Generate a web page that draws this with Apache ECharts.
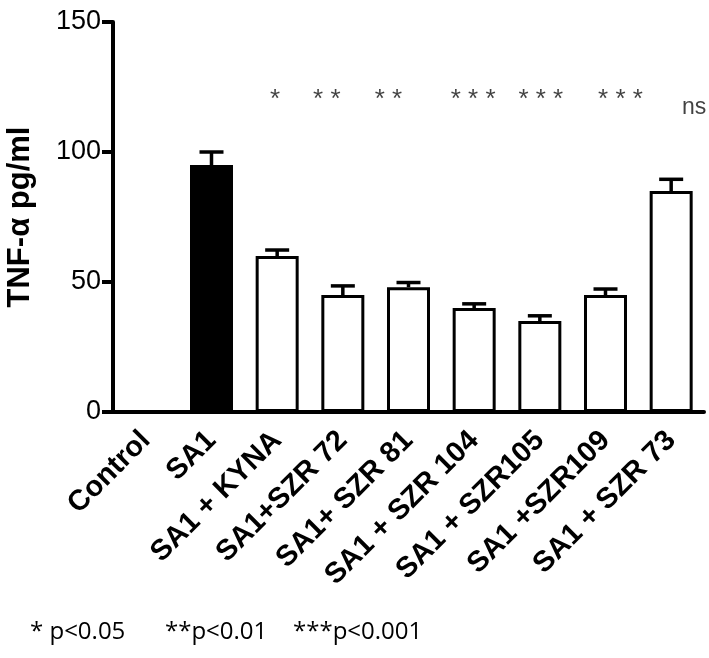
<!DOCTYPE html>
<html>
<head>
<meta charset="utf-8">
<script src="https://cdn.jsdelivr.net/npm/echarts@6/dist/echarts.min.js"></script>
<style>html,body{margin:0;padding:0;background:#fff;}#c{width:709px;height:658px;}</style>
</head>
<body>
<div id="c"></div>
<script>
const categories = ['Control','SA1','SA1 + KYNA','SA1+SZR 72','SA1+ SZR 81','SA1 + SZR 104','SA1 + SZR105','SA1 +SZR109','SA1 + SZR 73'];
const means = [0, 95, 60, 45, 48, 40, 35, 45, 85];
const errors = [0, 5, 2.3, 3.5, 1.8, 1.6, 2, 2.3, 4.5];
const sigLabels = ['', '', '*', '* *', '* *', '* * *', '* * *', '* * *', 'ns'];
const sigLevel = [null, null, 120, 120, 120, 120, 120, 120, 117];
const yTicks = [0, 50, 100, 150];
const footnotes = ['* p<0.05', '**p<0.01', '***p<0.001'];

// style-only: horizontal nudges of the significance marks
const sigOffsetX = [0, 0, -2, -16, -20, -1, 1, 15, 23];

const chart = echarts.init(document.getElementById('c'));
const font = 'Arial, "Liberation Sans", sans-serif';

chart.setOption({
  animation: false,
  backgroundColor: '#fff',
  grid: {left: 113, right: 5, top: 22, bottom: 246, containLabel: false, outerBoundsMode: 'none'},
  xAxis: {
    type: 'category',
    data: categories,
    axisLine: {lineStyle: {color: '#000', width: 4}},
    axisTick: {show: false},
    axisLabel: {rotate: 45, interval: 0, color: '#000', fontFamily: font, fontWeight: 'bold', fontSize: 29, margin: 24}
  },
  yAxis: {
    type: 'value', min: 0, max: 150, interval: 50,
    name: 'TNF-α pg/ml', nameLocation: 'middle', nameRotate: 90, nameGap: 77,
    nameTextStyle: {color: '#000', fontFamily: font, fontWeight: 'bold', fontSize: 31},
    axisLine: {show: true, lineStyle: {color: '#000', width: 4}},
    axisTick: {show: true, length: 11, lineStyle: {color: '#000', width: 4}},
    axisLabel: {color: '#000', fontFamily: font, fontSize: 27, margin: 12,
      formatter: v => yTicks.includes(v) ? String(v) : ''},
    splitLine: {show: false}
  },
  series: [
    {
      type: 'bar',
      data: means.map((v, i) => ({
        value: v,
        itemStyle: {color: i === 1 ? '#000' : '#fff', borderColor: '#000', borderWidth: v === 0 ? 0 : 3}
      })),
      barWidth: 43,
      z: 2
    },
    {
      type: 'custom',
      z: 3,
      data: means.map((v, i) => [i, v, errors[i]]),
      renderItem: function (params, api) {
        const v = api.value(1), e = api.value(2);
        if (!e) return null;
        const base = api.coord([api.value(0), v]);
        const top = api.coord([api.value(0), v + e]);
        const style = {stroke: '#000', lineWidth: 3.5};
        return {type: 'group', children: [
          {type: 'line', shape: {x1: base[0], y1: base[1], x2: top[0], y2: top[1]}, style},
          {type: 'line', shape: {x1: top[0] - 12, y1: top[1], x2: top[0] + 12, y2: top[1]}, style}
        ]};
      }
    },
    {
      type: 'scatter',
      symbolSize: 0,
      z: 4,
      data: sigLevel.map((v, i) => v === null ? null : {
        value: [i, v],
        label: {
          show: true, position: 'inside', formatter: sigLabels[i],
          offset: [sigOffsetX[i], 0],
          color: '#111', fontFamily: font,
          fontSize: sigLabels[i] === 'ns' ? 23 : 26
        }
      }).filter(d => d !== null)
    }
  ],
  graphic: [
    {type: 'text', left: 30, top: 620, style: {text: footnotes[0], font: '24px "Open Sans", ' + font, fill: '#000'}},
    {type: 'text', left: 165, top: 620, style: {text: footnotes[1], font: '24px "Open Sans", ' + font, fill: '#000'}},
    {type: 'text', left: 293, top: 620, style: {text: footnotes[2], font: '24px "Open Sans", ' + font, fill: '#000'}}
  ]
});
</script>
</body>
</html>
